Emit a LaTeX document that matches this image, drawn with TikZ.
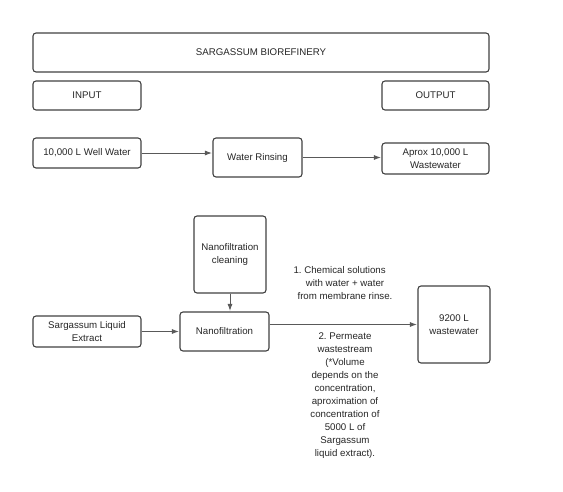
\documentclass[tikz,border=0pt]{standalone}
\usepackage{fontspec}
\setmainfont{Liberation Sans}
\usetikzlibrary{calc}
\usetikzlibrary{arrows.meta}
\tikzset{>={Latex[length=7pt,width=5pt]}}
\tikzset{
  box/.style={draw=black!75,line width=1.1pt,rounded corners=3pt,text=black!85,
    align=center,inner sep=1pt,font=\fontsize{9.7}{13}\selectfont},
  flow/.style={->,draw=black!65,line width=0.9pt,shorten >=0.5pt},
  note/.style={text=black!85,align=center,inner sep=0pt,font=\fontsize{9.7}{13}\selectfont}
}

\begin{document}
\begin{tikzpicture}[x=1pt,y=-1pt]
  \useasboundingbox (0,0) rectangle (563,491);
  
  % HEADER
  \node[box,minimum width=456,minimum height=39] (title) at (261,52.5) {SARGASSUM BIOREFINERY};
  \node[box,minimum width=108,minimum height=29] (input) at (87,95.5) {INPUT};
  \node[box,minimum width=107,minimum height=29] (output) at (435.5,95.5) {OUTPUT};
  
  % RINSING
  \node[box,minimum width=108,minimum height=30] (well) at (87,153) {10,000 L Well Water};
  \node[box,minimum width=89,minimum height=39] (rinse) at (257.5,157.5) {Water Rinsing};
  \node[box,minimum width=107,minimum height=31] (aprox) at (435.5,158.5) {Aprox 10,000 L\\Wastewater};
  \draw[flow] (well.east) -- (well.east -| rinse.west);
  \draw[flow] (rinse.east) -- (rinse.east -| aprox.west);
  
  % NANOFILTRATION
  \node[box,minimum width=72,minimum height=77] (clean) at (230,254.5) {Nanofiltration\\cleaning};
  \node[box,minimum width=89,minimum height=39] (nano) at (224.5,331.5) {Nanofiltration};
  \node[box,minimum width=108,minimum height=31] (sarg) at (87,331.5) {Sargassum Liquid\\Extract};
  \node[box,minimum width=72,minimum height=77] (ww) at (454,324.5) {9200 L\\wastewater};
  \draw[flow] (clean.south) -- (clean.south |- nano.north);
  \draw[flow] (sarg.east) -- (sarg.east -| nano.west);
  \draw[flow] (nano.east |- ww) -- (ww.west);
  
  % LABELS
  \node[note] (chem) at (345,283) {\llap{1.\ }Chemical solutions\\with water + water\\from membrane rinse.};
  \node[note] (perm) at (345,395.5) {2.\ Permeate\\wastestream\\(*Volume\\depends on the\\concentration,\\aproximation of\\concentration of\\5000 L of\\Sargassum\\liquid extract).};
  
\end{tikzpicture}
\end{document}
